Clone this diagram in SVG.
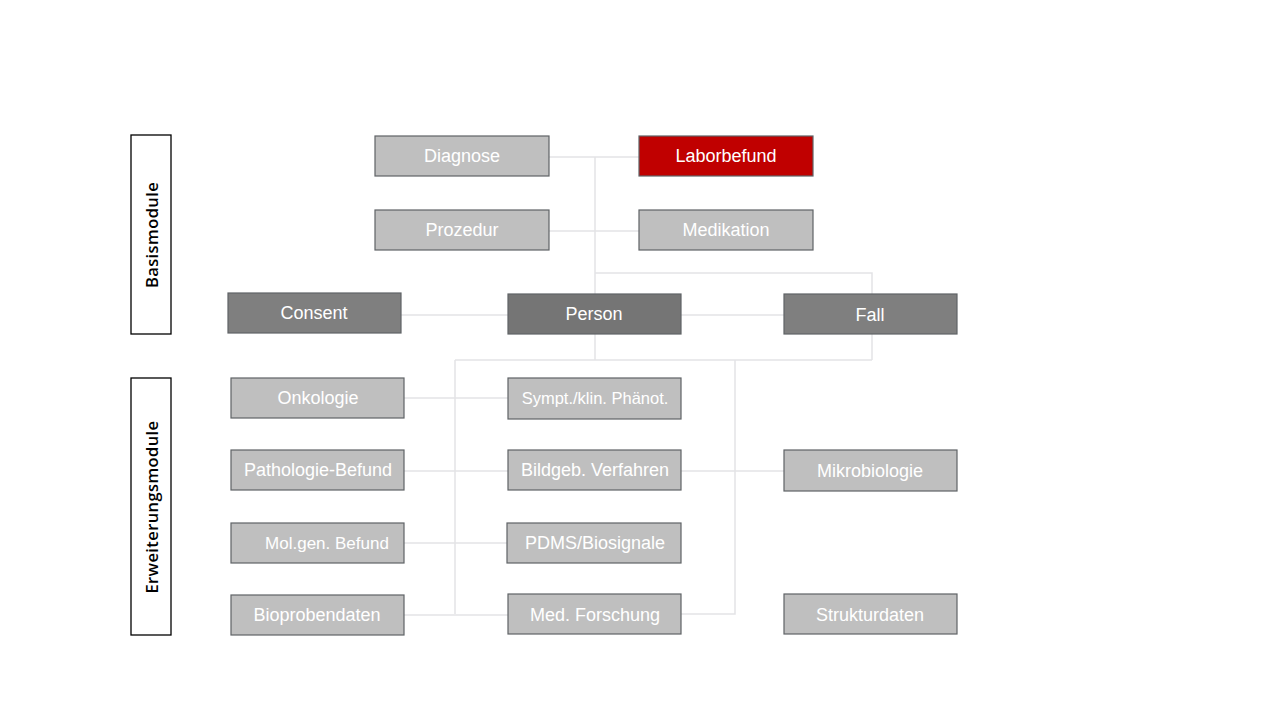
<svg xmlns="http://www.w3.org/2000/svg" width="1280" height="720" viewBox="0 0 1280 720">
<style>
.n rect{stroke:#5f6366;stroke-width:1.2}
.lt rect{fill:#bfbfbf}
.dk rect{fill:#7f7f7f}
.red rect{fill:#c00000}
.n text{font-family:"Liberation Sans","Noto Sans",sans-serif;font-size:18px;fill:#ffffff;text-anchor:middle;dominant-baseline:central}
.grp rect{fill:#ffffff;stroke:#000000;stroke-width:1.3}
.grp text{font-family:"Open Sans","Noto Sans",sans-serif;font-weight:600;font-size:16.5px;letter-spacing:0.4px;fill:#000000;text-anchor:middle;dominant-baseline:central}
#connectors path{fill:none;stroke:#e3e3e6;stroke-width:1.5}
</style>
<rect width="1280" height="720" fill="#ffffff"/>
<g id="connectors">
<path d="M549 157H639"/>
<path d="M595 157V360"/>
<path d="M549 231H639"/>
<path d="M595 273H872V360"/>
<path d="M455 360H872"/>
<path d="M401 315H508"/>
<path d="M681 315H784"/>
<path d="M455 360V614"/>
<path d="M735 360V614H681"/>
<path d="M404 398H508"/>
<path d="M404 471H508"/>
<path d="M681 471H784"/>
<path d="M404 543H507"/>
<path d="M404 615H508"/>
</g>
<g id="basismodule" class="grp"><rect x="131" y="135" width="40" height="199"/><text transform="translate(151 235) rotate(-90)">Basismodule</text></g>
<g id="erweiterungsmodule" class="grp"><rect x="131" y="378" width="40" height="257"/><text transform="translate(151 507) rotate(-90)">Erweiterungsmodule</text></g>
<g id="diagnose" class="n lt"><rect x="375" y="136" width="174" height="40"/><text x="462" y="156">Diagnose</text></g>
<g id="laborbefund" class="n red"><rect x="639" y="136" width="174" height="40"/><text x="726" y="156">Laborbefund</text></g>
<g id="prozedur" class="n lt"><rect x="375" y="210" width="174" height="40"/><text x="462" y="230">Prozedur</text></g>
<g id="medikation" class="n lt"><rect x="639" y="210" width="174" height="40"/><text x="726" y="230">Medikation</text></g>
<g id="consent" class="n dk"><rect x="228" y="293" width="173" height="40"/><text x="314" y="313">Consent</text></g>
<g id="person" class="n dk"><rect x="508" y="294" width="173" height="40" style="fill:#757575"/><text x="594" y="314">Person</text></g>
<g id="fall" class="n dk"><rect x="784" y="294" width="173" height="40"/><text x="870" y="315">Fall</text></g>
<g id="onkologie" class="n lt"><rect x="231" y="378" width="173" height="40"/><text x="318" y="398">Onkologie</text></g>
<g id="sympt" class="n lt"><rect x="508" y="378" width="173" height="41"/><text x="595" y="398" style="font-size:16.5px">Sympt./klin. Phänot.</text></g>
<g id="pathologie" class="n lt"><rect x="231" y="450" width="173" height="40"/><text x="318" y="470">Pathologie-Befund</text></g>
<g id="bildgeb" class="n lt"><rect x="508" y="450" width="173" height="40"/><text x="595" y="470">Bildgeb. Verfahren</text></g>
<g id="mikrobiologie" class="n lt"><rect x="784" y="450" width="173" height="41"/><text x="870" y="471">Mikrobiologie</text></g>
<g id="molgen" class="n lt"><rect x="231" y="523" width="173" height="40"/><text x="327" y="543" style="font-size:17px">Mol.gen. Befund</text></g>
<g id="pdms" class="n lt"><rect x="507" y="523" width="174" height="40"/><text x="595" y="543">PDMS/Biosignale</text></g>
<g id="bioproben" class="n lt"><rect x="231" y="595" width="173" height="40"/><text x="317" y="615">Bioprobendaten</text></g>
<g id="medforschung" class="n lt"><rect x="508" y="594" width="173" height="40"/><text x="595" y="615">Med. Forschung</text></g>
<g id="strukturdaten" class="n lt"><rect x="784" y="594" width="173" height="40"/><text x="870" y="615">Strukturdaten</text></g>
</svg>
